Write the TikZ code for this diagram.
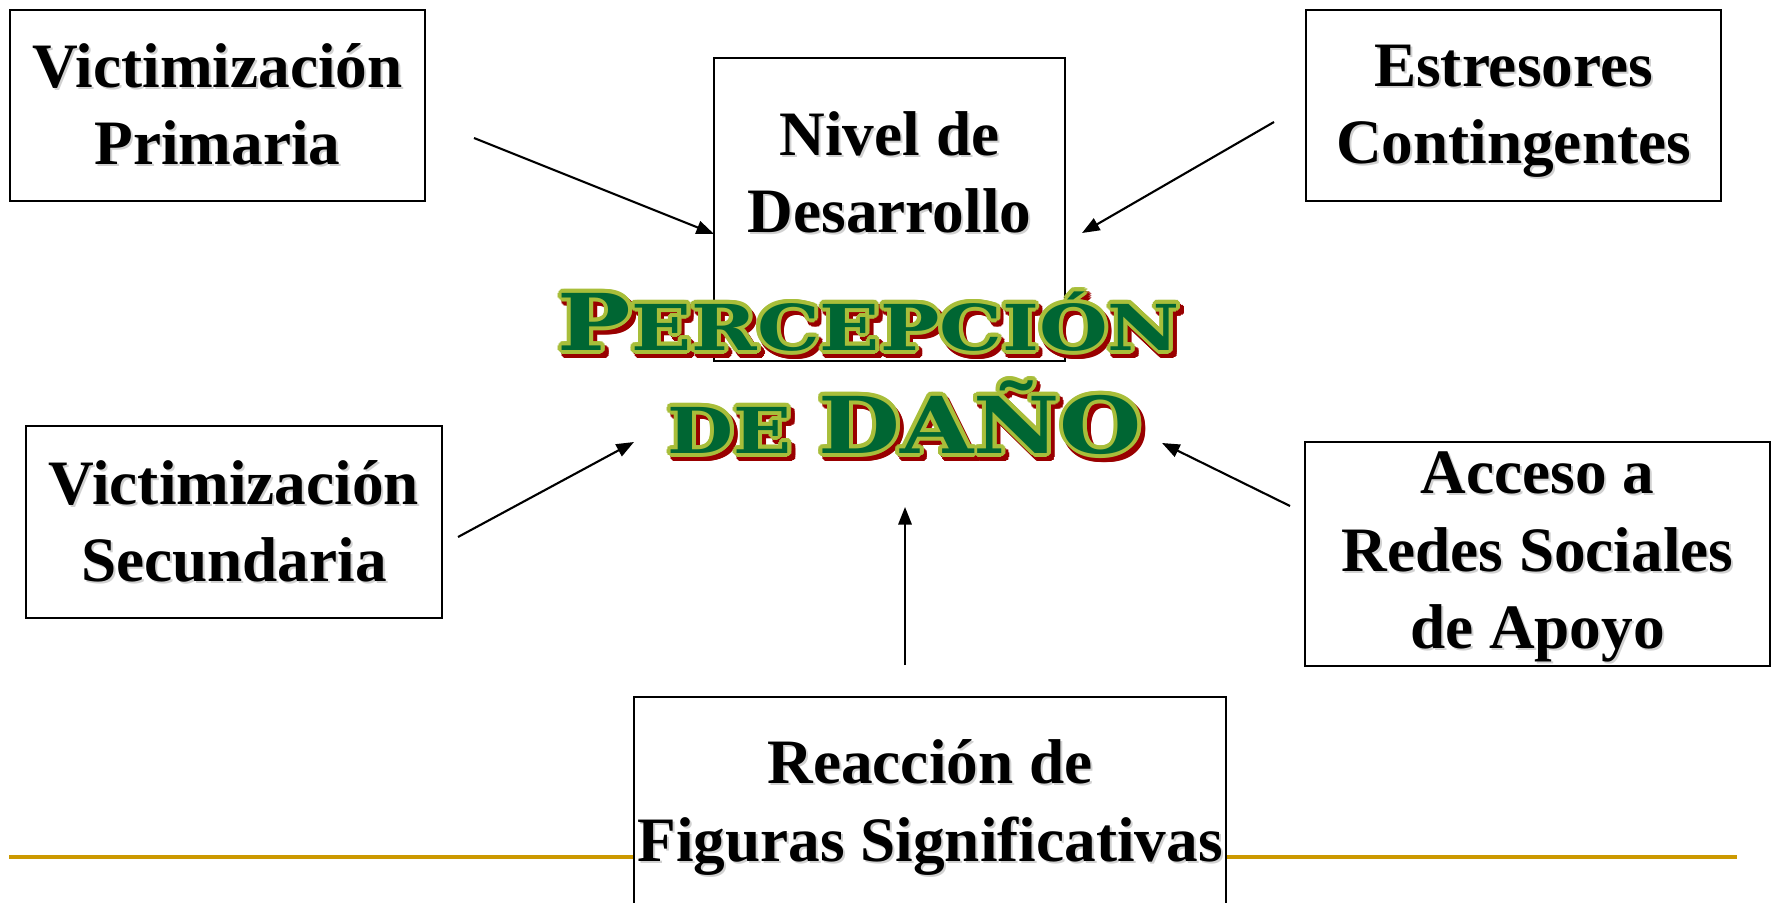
\documentclass[tikz,border=0pt]{standalone}
\usepackage{fontspec}
\setmainfont{Liberation Serif}
\newfontfamily\titlefont{DejaVu Serif}
\usetikzlibrary{arrows.meta}
\definecolor{tgreen}{HTML}{006633}
\definecolor{tlime}{HTML}{A8BE3A}
\definecolor{tred}{HTML}{990000}
\definecolor{goldline}{HTML}{CC9900}
\newcommand\lineA{\resizebox{177pt}{\height}{\fontsize{22.3}{22}\selectfont P\fontsize{18}{18}\selectfont ERCEPCIÓN}}
\newcommand\lineB{\resizebox{135pt}{\height}{\fontsize{18}{18}\selectfont DE \fontsize{22.3}{22}\selectfont DAÑO}}
\newcommand\btext[3]{%
  \node[shtxt] (#1s) at ([shift={(2,2)}]#2) {#3};
  \node[txt] (#1) at (#2) {#3};}
\tikzset{
  box/.style={draw=black, fill=white, line width=0.8pt, inner sep=0pt, outer sep=0pt},
  txt/.style={font=\fontsize{18}{22}\selectfont\bfseries, align=center, inner sep=0pt},
  shtxt/.style={txt, text=black!18},
  ttl/.style={font=\titlefont\bfseries, inner sep=0pt, anchor=base},
  arr/.style={line width=0.6pt, -{Triangle[length=5pt,width=3.8pt]}},
  gline/.style={draw=goldline, line width=0.4mm}
}
\begin{document}
\begin{tikzpicture}[x=0.1mm,y=-0.1mm]
\useasboundingbox (0,0) rectangle (1774,903);
% golden rule
\coordinate (g1) at (9,857);
\coordinate (g2) at (1737,857);
\draw[gline] (g1) -- (g2);
% boxes
\node[box, minimum width=41.5mm, minimum height=19.1mm] (vp) at (217.5,105.5) {};
\node[box, minimum width=35.1mm, minimum height=30.3mm] (niv) at (889.5,209.5) {};
\node[box, minimum width=41.5mm, minimum height=19.1mm] (est) at (1513.5,105.5) {};
\node[box, minimum width=41.6mm, minimum height=19.2mm] (vs) at (234,522) {};
\node[box, minimum width=46.5mm, minimum height=22.4mm] (acc) at (1537.5,554) {};
\node[box, minimum width=59.2mm, minimum height=22.6mm] (rea) at (930,810) {};
% box texts
\coordinate (vpt) at (217.5,104.5);
\coordinate (nivt) at (889.5,172.5);
\coordinate (estt) at (1513.5,111.5);
\coordinate (vst) at (234,521.5);
\coordinate (acct) at (1537.5,557);
\coordinate (reat) at (930,807.5);
\btext{vpx}{vpt}{Victimización\\Primaria}
\btext{nivx}{nivt}{Nivel de\\Desarrollo}
\btext{estx}{estt}{Estresores\\Contingentes}
\btext{vsx}{vst}{Victimización\\Secundaria}
\btext{accx}{acct}{Acceso a\\Redes Sociales\\de Apoyo}
\btext{reax}{reat}{Reacción de\\Figuras Significativas}
% title
\coordinate (t1) at (869,350);
\coordinate (t2) at (905,453);
\coordinate (t1s) at (872.5,354.5);
\coordinate (t2s) at (908.5,457.5);
\foreach \a in {0,22.5,...,337.5} {
  \node[ttl, text=tred] (sa\a) at ([shift={(\a:4)}]t1s) {\lineA};
  \node[ttl, text=tred] (sb\a) at ([shift={(\a:4)}]t2s) {\lineB};
}
\foreach \a in {0,22.5,...,337.5} {
  \node[ttl, text=tlime] (oa\a) at ([shift={(\a:4)}]t1) {\lineA};
  \node[ttl, text=tlime] (ob\a) at ([shift={(\a:4)}]t2) {\lineB};
}
\node[ttl, text=tgreen] (title1) at (t1) {\lineA};
\node[ttl, text=tgreen] (title2) at (t2) {\lineB};
% arrows
\coordinate (a1s) at (474,138);
\coordinate (a1e) at (714,234);
\coordinate (a2s) at (1274,122);
\coordinate (a2e) at (1082,233);
\coordinate (a3s) at (458,537);
\coordinate (a3e) at (634,442);
\coordinate (a4s) at (1290,506);
\coordinate (a4e) at (1162,443);
\coordinate (a5s) at (905,665);
\coordinate (a5e) at (905,507);
\draw[arr] (a1s) -- (a1e);
\draw[arr] (a2s) -- (a2e);
\draw[arr] (a3s) -- (a3e);
\draw[arr] (a4s) -- (a4e);
\draw[arr] (a5s) -- (a5e);
\end{tikzpicture}
\end{document}
